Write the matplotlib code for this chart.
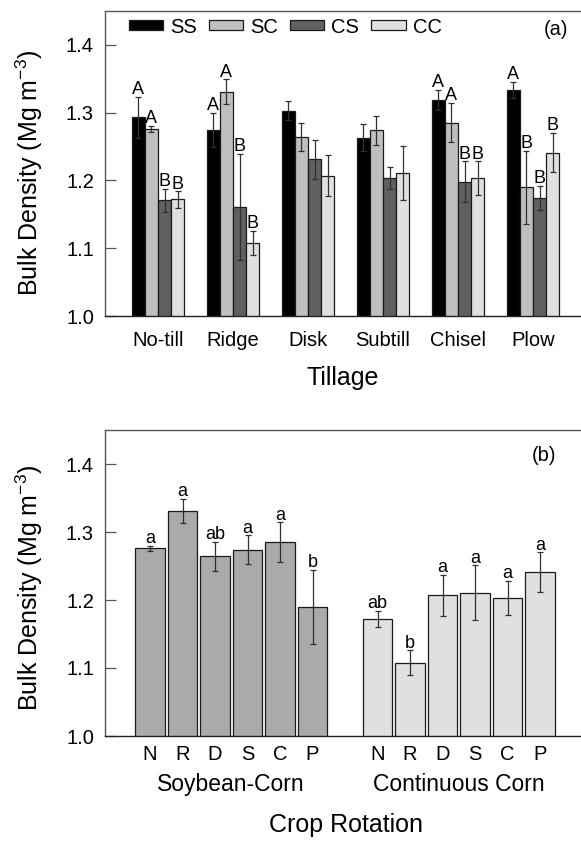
import matplotlib
matplotlib.use("Agg")
import matplotlib.pyplot as plt
import numpy as np

plt.rcParams['font.family'] = ['Liberation Sans', 'DejaVu Sans']
plt.rcParams['mathtext.default'] = 'regular'

# tillage x rotation sequence (panel a)
tillage = ["No-till", "Ridge", "Disk", "Subtill", "Chisel", "Plow"]
series = ["SS", "SC", "CS", "CC"]

ss = [1.293, 1.275, 1.303, 1.263, 1.319, 1.333]
ss_err = [0.030, 0.025, 0.014, 0.020, 0.015, 0.012]
sc = [1.276, 1.331, 1.264, 1.274, 1.285, 1.190]
sc_err = [0.004, 0.018, 0.021, 0.021, 0.029, 0.054]
cs = [1.171, 1.161, 1.231, 1.204, 1.198, 1.174]
cs_err = [0.017, 0.078, 0.029, 0.016, 0.030, 0.018]
cc = [1.172, 1.108, 1.207, 1.211, 1.203, 1.241]
cc_err = [0.012, 0.018, 0.030, 0.040, 0.025, 0.029]

ss_letters = ["A", "A", "", "", "A", "A"]
sc_letters = ["A", "A", "", "", "A", "B"]
cs_letters = ["B", "B", "", "", "B", "B"]
cc_letters = ["B", "B", "", "", "B", "B"]

# crop rotation (panel b)
rot_ticks = ["N", "R", "D", "S", "C", "P"]
rot_groups = ["Soybean-Corn", "Continuous Corn"]
sc_rot_letters = ["a", "a", "ab", "a", "a", "b"]
cc_rot_letters = ["ab", "b", "a", "a", "a", "a"]

colors_a = ["#000000", "#bfbfbf", "#606060", "#e0e0e0"]
edge = "#1a1a1a"
ecol = "#303030"
spine_col = "#555555"


def style_axes(ax):
    ax.set_ylim(1.0, 1.45)
    ax.set_yticks([1.0, 1.1, 1.2, 1.3, 1.4])
    ax.set_yticklabels(["1.0", "1.1", "1.2", "1.3", "1.4"])
    ax.tick_params(axis="y", direction="in", length=8, width=0.9,
                   color=spine_col, pad=8, labelsize=14.5)
    ax.spines["right"].set_visible(False)
    for s in ["left", "top"]:
        ax.spines[s].set_color(spine_col)
        ax.spines[s].set_linewidth(1.0)
    ax.spines["bottom"].set_color("#222222")
    ax.spines["bottom"].set_linewidth(1.0)


def add_letters(ax, xs, vals, errs, letters):
    for xi, v, e, t in zip(xs, vals, errs, letters):
        if t:
            ax.annotate(t, (xi, v + e), xytext=(0, 2), textcoords="offset points",
                        ha="center", va="baseline", fontsize=13)


fig = plt.figure(figsize=(5.81, 8.41), dpi=100)
ax1 = fig.add_axes([105 / 581, 1 - 316 / 841, 476 / 581, 305 / 841])
ax2 = fig.add_axes([105 / 581, 1 - 736 / 841, 476 / 581, 306 / 841])

# ---- panel (a)
x = np.arange(len(tillage))
w = 0.175
vals_a = [ss, sc, cs, cc]
errs_a = [ss_err, sc_err, cs_err, cc_err]
lets_a = [ss_letters, sc_letters, cs_letters, cc_letters]
handles = []
for i, name in enumerate(series):
    xs = x + (i - 1.5) * w
    h = ax1.bar(xs, vals_a[i], w, color=colors_a[i], edgecolor=edge,
                linewidth=0.9, label=name)
    handles.append(h)
    ax1.errorbar(xs, vals_a[i], yerr=errs_a[i], fmt="none", ecolor=ecol,
                 elinewidth=0.9, capsize=2.5, capthick=0.9)
    add_letters(ax1, xs, vals_a[i], errs_a[i], lets_a[i])

ax1.set_xlim(-0.707, 5.64)
style_axes(ax1)
ax1.set_xticks(x)
ax1.set_xticklabels(tillage)
ax1.tick_params(axis="x", length=0, pad=11, labelsize=14.5)
ax1.legend(handles=handles, loc="center left", bbox_to_anchor=(0.05, 0.9475),
           ncol=4, frameon=False, fontsize=14.5, handlelength=1.7,
           handleheight=0.4, handletextpad=0.35, columnspacing=0.6,
           borderpad=0, borderaxespad=0)
ax1.text(0.947, 0.94, "(a)", transform=ax1.transAxes, ha="center",
         va="center", fontsize=14.5)

# ---- panel (b)
pos_sc = np.arange(6)
pos_cc = np.arange(6) + 7
ax2.bar(pos_sc, sc, 0.9, color="#aaaaaa", edgecolor=edge, linewidth=0.9)
ax2.errorbar(pos_sc, sc, yerr=sc_err, fmt="none", ecolor=ecol,
             elinewidth=0.9, capsize=2.5, capthick=0.9)
add_letters(ax2, pos_sc, sc, sc_err, sc_rot_letters)
ax2.bar(pos_cc, cc, 0.9, color="#e0e0e0", edgecolor=edge, linewidth=0.9)
ax2.errorbar(pos_cc, cc, yerr=cc_err, fmt="none", ecolor=ecol,
             elinewidth=0.9, capsize=2.5, capthick=0.9)
add_letters(ax2, pos_cc, cc, cc_err, cc_rot_letters)

ax2.set_xlim(-1.385, 13.26)
style_axes(ax2)
ax2.set_xticks(list(pos_sc) + list(pos_cc))
ax2.set_xticklabels(rot_ticks + rot_ticks)
ax2.tick_params(axis="x", length=0, pad=6.5, labelsize=14.5)
ax2.text(0.922, 0.918, "(b)", transform=ax2.transAxes, ha="center",
         va="center", fontsize=14.5)
tr = ax2.get_xaxis_transform()
ax2.text(pos_sc.mean(), -0.16, rot_groups[0], transform=tr, ha="center",
         va="center", fontsize=16.5)
ax2.text(pos_cc.mean(), -0.16, rot_groups[1], transform=tr, ha="center",
         va="center", fontsize=16.5)

# axis titles
fig.text(343 / 581, 1 - 378 / 841, "Tillage", ha="center", va="center", fontsize=18)
fig.text(346 / 581, 1 - 825 / 841, "Crop Rotation", ha="center", va="center", fontsize=18)
ylab = "Bulk Density (Mg m$^{-3}$)"
fig.text(29 / 581, 1 - 173 / 841, ylab, rotation=90, ha="center", va="center", fontsize=18)
fig.text(29 / 581, 1 - 588 / 841, ylab, rotation=90, ha="center", va="center", fontsize=18)

fig.savefig("out.png", dpi=100)
